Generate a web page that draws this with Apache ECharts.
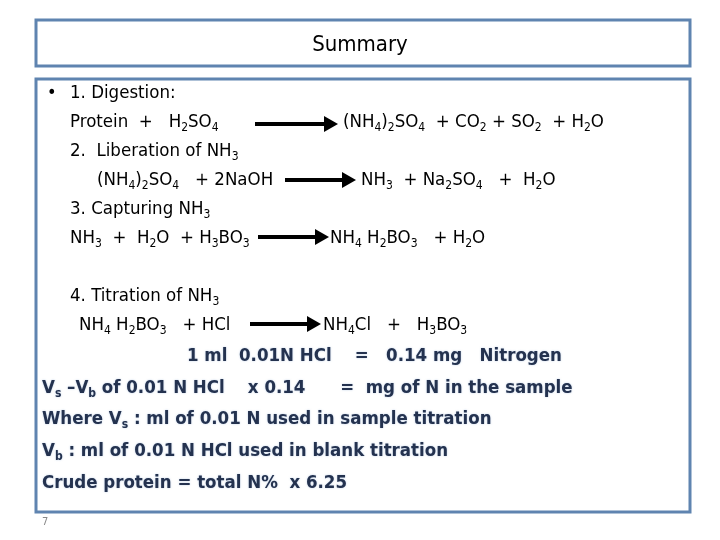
<!DOCTYPE html>
<html><head><meta charset="utf-8">
<script src="https://cdn.jsdelivr.net/npm/echarts@6/dist/echarts.min.js"></script>
<style>html,body{margin:0;background:#fff}#c{width:720px;height:540px}</style>
</head><body><div id="c"></div>
<script>
  var chart = echarts.init(document.getElementById('c'), null, { renderer: 'canvas' });

  // text lines: [x, y, rich string]
  var plainLines = [
    [70, 93, '1. Digestion:'],
    [70, 122, 'Protein  +   H{s|2}SO{s|4}'],
    [343, 122, '(NH{s|4}){s|2}SO{s|4}  + CO{s|2} + SO{s|2}  + H{s|2}O'],
    [70, 151, '2.  Liberation of NH{s|3}'],
    [97, 180, '(NH{s|4}){s|2}SO{s|4}   + 2NaOH'],
    [361, 180, 'NH{s|3}  + Na{s|2}SO{s|4}   +  H{s|2}O'],
    [70, 209, '3. Capturing NH{s|3}'],
    [70, 238, 'NH{s|3}  +  H{s|2}O  + H{s|3}BO{s|3}'],
    [330, 238, 'NH{s|4} H{s|2}BO{s|3}   + H{s|2}O'],
    [70, 296, '4. Titration of NH{s|3}'],
    [79, 325, 'NH{s|4} H{s|2}BO{s|3}   + HCl'],
    [323, 325, 'NH{s|4}Cl   +   H{s|3}BO{s|3}']
  ];
  var boldLines = [
    [187, 356, '1 ml  0.01N HCl    =   0.14 mg   Nitrogen'],
    [42, 388, 'V{s|s} \u2013V{s|b} of 0.01 N HCl    x 0.14      =  mg of N in the sample'],
    [42, 419, 'Where V{s|s} : ml of 0.01 N used in sample titration'],
    [42, 451, 'V{s|b} : ml of 0.01 N HCl used in blank titration'],
    [42, 483, 'Crude protein = total N%  x 6.25']
  ];
  // arrows: [x1, x2, y]
  var arrows = [[255, 338, 124], [285, 356, 180], [258, 329, 237], [250, 321, 324]];

  var font = '"Liberation Sans Narrow", "DejaVu Sans Condensed", sans-serif';
  var graphics = [
    { type: 'rect', shape: { x: 36, y: 20, width: 654, height: 46 },
      style: { fill: '#fff', stroke: '#5f84b0', lineWidth: 3 } },
    { type: 'text', x: 360, y: 45, style: { text: 'Summary', font: '22px ' + font,
      fill: '#000', align: 'center', verticalAlign: 'middle' } },
    { type: 'rect', shape: { x: 36, y: 79, width: 654, height: 433 },
      style: { fill: '#fff', stroke: '#5f84b0', lineWidth: 3 } },
    { type: 'text', x: 47, y: 93, style: { text: '\u2022', font: '18px ' + font,
      fill: '#000', verticalAlign: 'middle' } },
    { type: 'text', x: 42, y: 522, style: { text: '7', font: '11px ' + font,
      fill: '#888', verticalAlign: 'middle' } }
  ];

  function mkText(l, bold) {
    var size = bold ? 18.5 : 18.5;
    var col = bold ? '#24324f' : '#000';
    return {
      type: 'text', x: l[0], y: l[1],
      style: {
        text: l[2], fontFamily: font, fontSize: size, fontWeight: bold ? 'bold' : 'normal',
        fill: col, verticalAlign: 'middle', lineHeight: 24,
        textShadowColor: bold ? 'rgba(140,170,210,0.6)' : 'transparent', textShadowBlur: bold ? 2 : 0,
        rich: {
          s: { fontFamily: font, fontSize: 12, fontWeight: bold ? 'bold' : 'normal', fill: col,
               lineHeight: 14, padding: [11, 0, 0, 0], verticalAlign: 'bottom' }
        }
      }
    };
  }
  plainLines.forEach(function (l) { graphics.push(mkText(l, false)); });
  boldLines.forEach(function (l) { graphics.push(mkText(l, true)); });
  arrows.forEach(function (a) {
    graphics.push({ type: 'line', shape: { x1: a[0], y1: a[2], x2: a[1] - 12, y2: a[2] },
      style: { stroke: '#000', lineWidth: 4 } });
    graphics.push({ type: 'polygon', shape: { points: [[a[1] - 14, a[2] - 8], [a[1], a[2]], [a[1] - 14, a[2] + 8]] },
      style: { fill: '#000' } });
  });

  chart.setOption({ animation: false, graphic: graphics });
  window.addEventListener('resize', chart.resize);
</script></body></html>
